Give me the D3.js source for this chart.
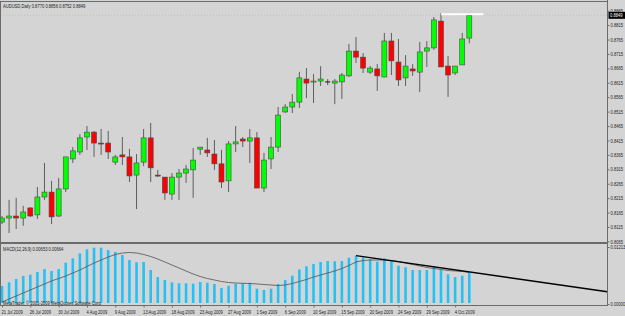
<!DOCTYPE html>
<html><head><meta charset="utf-8">
<script src="https://cdn.jsdelivr.net/npm/d3@7"></script>
<style>body{margin:0;background:#d4d4d4}svg{display:block}text{font-family:"Liberation Sans",Arial,sans-serif}</style>
</head><body><svg id="c" width="625" height="316"></svg>
<script>
const dates = ["21 Jul","22 Jul","23 Jul","24 Jul","26 Jul","27 Jul","28 Jul","29 Jul","30 Jul","31 Jul",
"2 Aug","3 Aug","4 Aug","5 Aug","6 Aug","7 Aug","9 Aug","10 Aug","11 Aug","12 Aug",
"13 Aug","14 Aug","16 Aug","17 Aug","18 Aug","19 Aug","20 Aug","21 Aug","23 Aug","24 Aug",
"25 Aug","26 Aug","27 Aug","28 Aug","30 Aug","31 Aug","1 Sep","2 Sep","3 Sep","4 Sep",
"6 Sep","7 Sep","8 Sep","9 Sep","10 Sep","11 Sep","13 Sep","14 Sep","15 Sep","16 Sep",
"17 Sep","18 Sep","20 Sep","21 Sep","22 Sep","23 Sep","24 Sep","25 Sep","27 Sep","28 Sep",
"29 Sep","30 Sep","1 Oct","2 Oct","4 Oct","5 Oct","6 Oct"];
const open = [0.8132,0.8146,0.8153,0.8146,0.8181,0.8157,0.8219,0.8236,0.8153,0.8247,
0.8351,0.8375,0.8427,0.8444,0.8406,0.8406,0.8340,0.8365,0.8358,0.8295,
0.8340,0.8424,0.8295,0.8288,0.8229,0.8288,0.8302,0.8313,0.8385,0.8382,
0.8368,0.8334,0.8275,0.8403,0.8420,0.8413,0.8424,0.8250,0.8351,0.8392,
0.8514,0.8531,0.8548,0.8628,0.8618,0.8621,0.8618,0.8614,0.8618,0.8639,
0.8725,0.8704,0.8652,0.8663,0.8635,0.8760,0.8687,0.8632,0.8663,0.8652,
0.8725,0.8736,0.8829,0.8673,0.8649,0.8677,0.8770];
const high = [0.8153,0.8209,0.8216,0.8188,0.8184,0.8254,0.8337,0.8275,0.8285,0.8358,
0.8392,0.8437,0.8465,0.8448,0.8455,0.8448,0.8365,0.8427,0.8386,0.8368,
0.8455,0.8476,0.8313,0.8288,0.8302,0.8316,0.8330,0.8389,0.8392,0.8424,
0.8417,0.8382,0.8413,0.8465,0.8427,0.8455,0.8444,0.8372,0.8427,0.8531,
0.8541,0.8576,0.8653,0.8666,0.8645,0.8673,0.8628,0.8628,0.8649,0.8750,
0.8774,0.8718,0.8673,0.8680,0.8788,0.8788,0.8767,0.8711,0.8680,0.8757,
0.8760,0.8843,0.8857,0.8708,0.8673,0.8788,0.8856];
const low = [0.8125,0.8094,0.8108,0.8119,0.8150,0.8143,0.8209,0.8125,0.8150,0.8236,
0.8337,0.8365,0.8382,0.8358,0.8365,0.8351,0.8330,0.8330,0.8271,0.8177,
0.8326,0.8271,0.8288,0.8209,0.8209,0.8209,0.8268,0.8216,0.8365,0.8358,
0.8313,0.8250,0.8236,0.8375,0.8392,0.8337,0.8250,0.8236,0.8316,0.8375,
0.8510,0.8510,0.8528,0.8562,0.8545,0.8604,0.8607,0.8541,0.8559,0.8635,
0.8684,0.8649,0.8646,0.8587,0.8635,0.8642,0.8604,0.8604,0.8639,0.8583,
0.8670,0.8729,0.8670,0.8566,0.8642,0.8677,0.8752];
const close = [0.8146,0.8153,0.8146,0.8167,0.8153,0.8219,0.8236,0.8150,0.8247,0.8358,
0.8379,0.8424,0.8444,0.8406,0.8403,0.8375,0.8358,0.8358,0.8292,0.8337,
0.8424,0.8320,0.8292,0.8233,0.8288,0.8302,0.8316,0.8347,0.8392,0.8372,
0.8334,0.8271,0.8403,0.8410,0.8413,0.8424,0.8250,0.8347,0.8392,0.8503,
0.8531,0.8548,0.8632,0.8614,0.8621,0.8628,0.8618,0.8621,0.8642,0.8725,
0.8704,0.8666,0.8666,0.8639,0.8760,0.8691,0.8625,0.8673,0.8656,0.8722,
0.8736,0.8833,0.8670,0.8642,0.8673,0.8767,0.8849];
const macd = [0.00368,0.00448,0.00520,0.00585,0.00613,0.00671,0.00736,0.00693,0.00736,0.00873,
0.00968,0.01076,0.01163,0.01198,0.01198,0.01148,0.01105,0.01040,0.00931,0.00882,
0.00888,0.00715,0.00563,0.00498,0.00448,0.00427,0.00427,0.00418,0.00455,0.00440,
0.00412,0.00325,0.00375,0.00418,0.00427,0.00440,0.00310,0.00282,0.00310,0.00412,
0.00498,0.00591,0.00726,0.00795,0.00845,0.00888,0.00910,0.00903,0.00910,0.00981,
0.01025,0.00990,0.00947,0.00895,0.00968,0.00916,0.00808,0.00773,0.00715,0.00715,
0.00715,0.00801,0.00715,0.00622,0.00563,0.00591,0.00653];
const signal = [0.00022,0.00087,0.00152,0.00217,0.00282,0.00347,0.00412,0.00477,0.00531,0.00585,
0.00650,0.00715,0.00791,0.00866,0.00931,0.00996,0.01051,0.01083,0.01094,0.01083,
0.01051,0.01007,0.00953,0.00888,0.00823,0.00758,0.00693,0.00628,0.00574,0.00531,
0.00498,0.00466,0.00444,0.00433,0.00427,0.00422,0.00412,0.00401,0.00390,0.00379,
0.00390,0.00422,0.00466,0.00509,0.00563,0.00606,0.00650,0.00693,0.00747,0.00812,
0.00888,0.00921,0.00931,0.00931,0.00931,0.00921,0.00899,0.00866,0.00834,0.00801,
0.00769,0.00747,0.00726,0.00704,0.00693,0.00682,0.00664];
const priceTickLabels = ["0.8865","0.8815","0.8765","0.8715","0.8665","0.8615","0.8565","0.8515","0.8465",
"0.8415","0.8365","0.8315","0.8265","0.8215","0.8165","0.8115","0.8065"];
const macdTickLabels = ["0.01213","0.00000"];
const dateTickIdx = [0,4,8,12,16,20,24,28,32,36,40,44,48,52,56,60,64];
const whiteLine = {from:62, to:68, price:0.8853};
const macdTrend = [{i:50, v:0.01025},{i:85.5, v:0.00245}];

const svg = d3.select('#c');
const W = 625, H = 316, R = 607.5;
const FS = 5;
svg.append('rect').attr('width',W).attr('height',H).attr('fill','#d4d4d4');

const x = d3.scaleLinear().domain([0,66]).range([2,469.3]);
const y = d3.scaleLinear().domain([0.8065,0.8865]).range([241.4,10.7]);
const ym = d3.scaleLinear().domain([0,0.01213]).range([303,247]);

const defs = svg.append('defs');
defs.append('clipPath').attr('id','cm').append('rect').attr('x',1).attr('y',2).attr('width',R-1).attr('height',240);
defs.append('clipPath').attr('id','cd').append('rect').attr('x',1).attr('y',244).attr('width',R-1).attr('height',61);

// main panel
const gm = svg.append('g').attr('clip-path','url(#cm)');
gm.append('line').attr('x1',0).attr('x2',R).attr('y1',y(close[66])).attr('y2',y(close[66]))
  .attr('stroke','#c9b994').attr('stroke-width',0.8).attr('stroke-dasharray','1,2');
const idx = d3.range(open.length);
gm.selectAll('.wick').data(idx).join('line')
  .attr('x1',i=>x(i)).attr('x2',i=>x(i)).attr('y1',i=>y(high[i])).attr('y2',i=>y(low[i]))
  .attr('stroke','#5e5e5e').attr('stroke-width',1);
gm.selectAll('.body').data(idx.filter(i=>open[i]!==close[i])).join('rect')
  .attr('x',i=>x(i)-2.5).attr('width',5)
  .attr('y',i=>y(Math.max(open[i],close[i])))
  .attr('height',i=>Math.max(1,y(Math.min(open[i],close[i]))-y(Math.max(open[i],close[i]))))
  .attr('fill',i=>close[i]>open[i]?'#00ff00':'#ff0000')
  .attr('stroke','#4a4a4a').attr('stroke-width',0.6);
gm.selectAll('.doji').data(idx.filter(i=>open[i]===close[i])).join('line')
  .attr('x1',i=>x(i)-2.5).attr('x2',i=>x(i)+2.5).attr('y1',i=>y(open[i])).attr('y2',i=>y(open[i]))
  .attr('stroke','#111').attr('stroke-width',1);
gm.append('line').attr('x1',x(whiteLine.from)).attr('x2',x(whiteLine.to))
  .attr('y1',y(whiteLine.price)).attr('y2',y(whiteLine.price))
  .attr('stroke','#ffffff').attr('stroke-width',2);

// MACD panel
const gd = svg.append('g').attr('clip-path','url(#cd)');
gd.selectAll('.hb').data(idx).join('rect')
  .attr('x',i=>x(i)-1.3).attr('width',2.6)
  .attr('y',i=>ym(macd[i])).attr('height',i=>ym(0)-ym(macd[i]))
  .attr('fill','#22c2f6');
gd.append('path').datum(idx).attr('fill','none').attr('stroke','#505050').attr('stroke-width',0.8)
  .attr('d',d3.line().x(i=>x(i)).y(i=>ym(signal[i])));
gd.append('line').attr('x1',x(macdTrend[0].i)).attr('y1',ym(macdTrend[0].v))
  .attr('x2',x(macdTrend[1].i)).attr('y2',ym(macdTrend[1].v))
  .attr('stroke','#000').attr('stroke-width',1.4);

// frame
const fc = '#6b6b6b';
svg.append('line').attr('x1',0.5).attr('x2',0.5).attr('y1',1).attr('y2',306).attr('stroke',fc);
svg.append('line').attr('x1',0).attr('x2',R).attr('y1',1.5).attr('y2',1.5).attr('stroke',fc);
svg.append('rect').attr('x',0).attr('y',242).attr('width',R).attr('height',2).attr('fill',fc);
svg.append('line').attr('x1',0).attr('x2',R).attr('y1',305.5).attr('y2',305.5).attr('stroke',fc);

// right price axis
const ax = d3.axisRight(y).tickValues(priceTickLabels.map(Number)).tickFormat((d,i)=>priceTickLabels[i]).tickSize(2).tickPadding(1);
const gax = svg.append('g').attr('transform',`translate(${R},0)`).call(ax);
gax.select('.domain').attr('stroke',fc).attr('d','M0,0V306');
gax.selectAll('.tick line').attr('stroke',fc);
gax.selectAll('text').attr('font-size',FS).attr('fill','#222').attr('font-family',null);
// current price marker
const cp = y(close[66]);
svg.append('rect').attr('x',R+1).attr('y',cp-3.5).attr('width',16.5).attr('height',7).attr('fill','#000');
svg.append('text').attr('x',R+2.5).attr('y',cp+1.8).attr('font-size',FS).attr('fill','#fff').text(close[66].toFixed(4));

// MACD axis labels
const am = d3.axisRight(ym).tickValues(macdTickLabels.map(Number)).tickFormat((d,i)=>macdTickLabels[i]).tickSize(2).tickPadding(1);
const gam = svg.append('g').attr('transform',`translate(${R},0)`).call(am);
gam.select('.domain').remove();
gam.selectAll('.tick line').attr('stroke',fc);
gam.selectAll('text').attr('font-size',FS).attr('fill','#222').attr('font-family',null);
gam.selectAll('.tick').filter((d,i)=>i===1).attr('transform',`translate(0,304.5)`);

// bottom date axis
const ab = d3.axisBottom(x).tickValues(dateTickIdx).tickFormat(i=>dates[i]+' 2009').tickSize(2).tickPadding(2.5);
const gab = svg.append('g').attr('transform','translate(0,305.5)').call(ab);
gab.select('.domain').remove();
gab.selectAll('.tick line').attr('stroke',fc);
gab.selectAll('text').attr('font-size',FS).attr('fill','#222').attr('text-anchor','start').attr('x',-1).attr('font-family',null);

// titles
svg.append('text').attr('x',3).attr('y',8).attr('font-size',FS).attr('fill','#222')
  .text(`AUDUSD,Daily  ${open[66].toFixed(4)} ${high[66].toFixed(4)} ${low[66].toFixed(4)} ${close[66].toFixed(4)}`);
svg.append('text').attr('x',3).attr('y',251).attr('font-size',FS).attr('fill','#222')
  .text(`MACD(12,26,9) ${macd[66].toFixed(5)} ${signal[66].toFixed(5)}`);
svg.append('text').attr('x',3).attr('y',305).attr('font-size',FS).attr('fill','#222')
  .text('MetaTrader, © 2001-2009 MetaQuotes Software Corp.');

// condense all small text horizontally (MT4-like narrow font)
svg.selectAll('text').each(function(){
  const len = this.getComputedTextLength();
  if (len > 0) d3.select(this).attr('textLength', (len*0.82).toFixed(2)).attr('lengthAdjust','spacingAndGlyphs');
});
</script></body></html>
